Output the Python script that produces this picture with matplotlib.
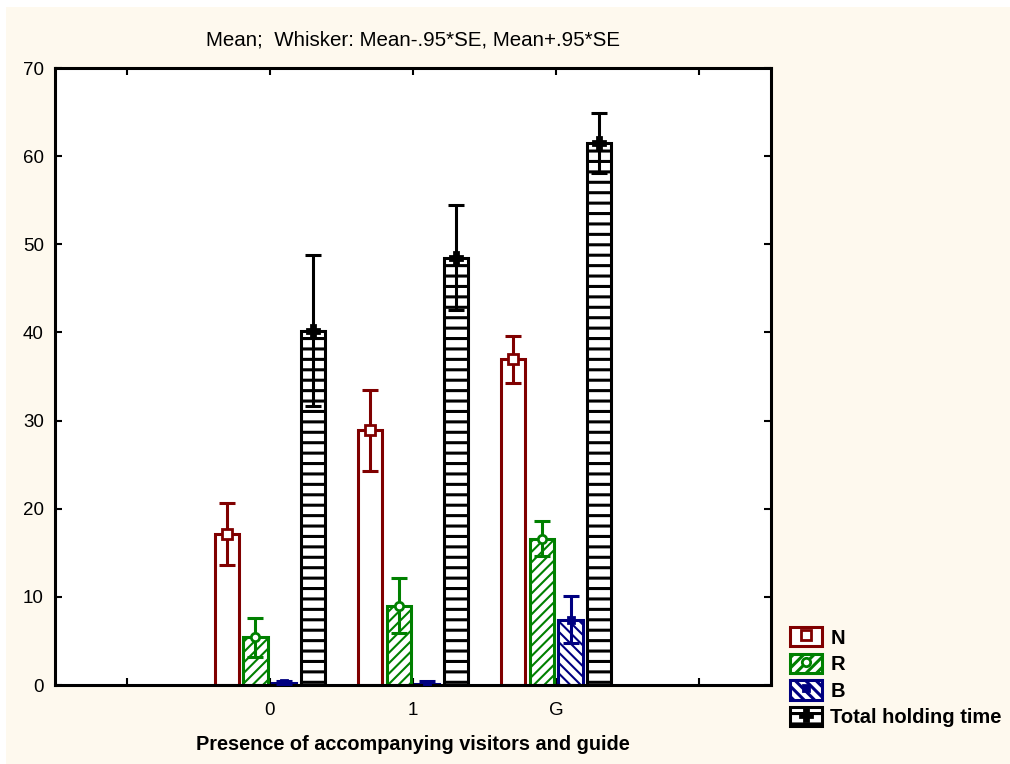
import matplotlib
matplotlib.use("Agg")
import matplotlib.pyplot as plt
import numpy as np
from matplotlib.patches import Patch, Rectangle
from matplotlib.lines import Line2D

DPI = 125
S = 100 / DPI  # scale so sizes behave as if at 100 dpi

plt.rcParams['font.family'] = ['Liberation Sans', 'DejaVu Sans']

categories = ["0", "1", "G"]
series = ["N", "R", "B", "Total holding time"]
means = {
    "N": [17.1, 28.9, 36.95],
    "R": [5.4, 9.0, 16.6],
    "B": [0.2, 0.1, 7.4],
    "Total holding time": [40.2, 48.5, 61.5],
}
errors = {
    "N": [3.5, 4.6, 2.65],
    "R": [2.25, 3.1, 2.0],
    "B": [0.25, 0.3, 2.65],
    "Total holding time": [8.6, 6.0, 3.4],
}
colors = {"N": "#800000", "R": "#008000", "B": "#000080", "Total holding time": "#000000"}
hatches = {"N": None, "R": "////", "B": "\\\\\\\\", "Total holding time": "--"}
hatch_lw = {"N": 1.0, "R": 1.5, "B": 1.5, "Total holding time": 2.2}
markers = {"N": "s", "R": "o", "B": "s", "Total holding time": "P"}
msizes = {"N": 7, "R": 6, "B": 5, "Total holding time": 8}
mfaces = {"N": "white", "R": "white", "B": "#000080", "Total holding time": "black"}

bg = "#FEF9EE"
fig = plt.figure(figsize=(1011 / DPI, 764 / DPI), dpi=DPI)
fig.patch.set_facecolor("white")
fig.patches.append(Rectangle((6 / 1011, 0), 1, 1 - 7 / 764, transform=fig.transFigure,
                             facecolor=bg, edgecolor="none", zorder=-10))

ax = fig.add_axes([55 / 1011, 1 - 685 / 764, 716 / 1011, 617 / 764])
ax.set_facecolor("white")

x = np.arange(1, len(categories) + 1)
width = 0.17
step = 0.2
offsets = [-1.5 * step, -0.5 * step, 0.5 * step, 1.5 * step]

handles = []
for s, off in zip(series, offsets):
    c = colors[s]
    plt.rcParams['hatch.color'] = c
    plt.rcParams['hatch.linewidth'] = hatch_lw[s] * S
    ax.bar(x + off, means[s], width=width, facecolor="white", edgecolor=c,
           hatch=hatches[s], linewidth=2.2 * S, zorder=2)
    ax.errorbar(x + off, means[s], yerr=errors[s], fmt="none", ecolor=c,
                elinewidth=2.2 * S, capsize=5.5 * S, capthick=2.2 * S, zorder=3)
    ax.plot(x + off, means[s], linestyle="none", marker=markers[s], markersize=msizes[s] * S,
            markerfacecolor=mfaces[s], markeredgecolor=c, markeredgewidth=2 * S, zorder=4)
    p = Patch(facecolor="white", edgecolor=c, hatch=hatches[s], linewidth=2.2 * S)
    m = Line2D([], [], linestyle="none", marker=markers[s], markersize=msizes[s] * S,
               markerfacecolor=mfaces[s], markeredgecolor=c, markeredgewidth=2 * S)
    handles.append((p, m))

ax.set_xlim(-0.5, 4.5)
ax.set_ylim(0, 70)
ax.set_xticks(range(5))
ax.set_xticklabels(["", "0", "1", "G", ""])
ax.set_yticks(range(0, 71, 10))
ax.tick_params(axis="both", direction="in", top=True, right=True, length=5 * S, width=1.5 * S,
               labelsize=13.5 * S, pad=8 * S)
ax.tick_params(axis="x", pad=12 * S)
for sp in ax.spines.values():
    sp.set_linewidth(2.2 * S)

ax.set_xlabel("Presence of accompanying visitors and guide", fontsize=14.3 * S, fontweight="bold",
              labelpad=12 * S)
fig.text(413 / 1011, 1 - 40 / 764, "Mean;  Whisker: Mean-.95*SE, Mean+.95*SE",
         ha="center", va="center", fontsize=14.8 * S,
         family=["Liberation Sans Narrow", "Liberation Sans", "DejaVu Sans"])

leg = fig.legend(handles, series, loc="upper left", bbox_to_anchor=(782 / 1011, 1 - 619 / 764),
                 frameon=False, prop={"weight": "bold", "size": 14.5 * S}, handlelength=1.6,
                 handleheight=1.1, labelspacing=0.3, handletextpad=0.4, borderaxespad=0)

fig.savefig("out.png", dpi=DPI, facecolor=fig.get_facecolor())
